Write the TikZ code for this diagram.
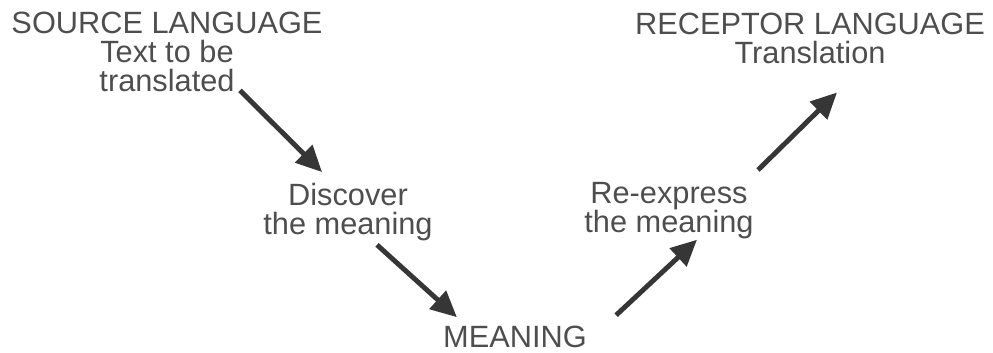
\documentclass[tikz,border=0pt]{standalone}
\usepackage{fontspec}
\setsansfont{Liberation Sans}
\usepackage{tikz}
\usetikzlibrary{arrows.meta, positioning, calc}
\definecolor{tgray}{HTML}{4E4E4E}
\definecolor{agray}{HTML}{363636}
\tikzset{
  font=\sffamily,
  lbl/.style={
    text=tgray, align=center, inner sep=0pt,
    font=\fontsize{17.5}{16.5}\selectfont\sffamily
  },
  arr/.style={-{Triangle[length=0.52cm, width=0.48cm]}, line width=2.8pt, draw=agray}
}
\begin{document}
\begin{tikzpicture}
  \useasboundingbox (0,0) rectangle (19.86,7.04);
  \node[lbl, anchor=north] (src) at (3.34,6.80)
    {SOURCE LANGUAGE\\Text to be\\translated};
  \node[lbl, anchor=north] (rec) at (16.20,6.78)
    {RECEPTOR LANGUAGE\\Translation};
  \node[lbl, anchor=north] (disc) at (6.96,3.38)
    {Discover\\the meaning};
  \node[lbl, anchor=north] (rex) at (13.38,3.40)
    {Re-express\\the meaning};
  \node[lbl, anchor=base] (mean) at (10.30,0.10) {MEANING};
  % down to the meaning, then up again
  \draw[arr] ([xshift=1.46cm,yshift=0.04cm]src.south) -- ([xshift=-0.52cm,yshift=0.22cm]disc.north);
  \draw[arr] ([xshift=0.58cm,yshift=-0.07cm]disc.south) -- ([xshift=0.28cm,yshift=0.16cm]mean.north west);
  \draw[arr] ([xshift=0.58cm,yshift=0.20cm]mean.north east) -- ([xshift=0.56cm,yshift=-0.01cm]rex.south);
  \draw[arr] ([xshift=0.08cm,yshift=0.24cm]rex.north east) -- ([xshift=0.54cm,yshift=-0.56cm]rec.south);
\end{tikzpicture}
\end{document}
